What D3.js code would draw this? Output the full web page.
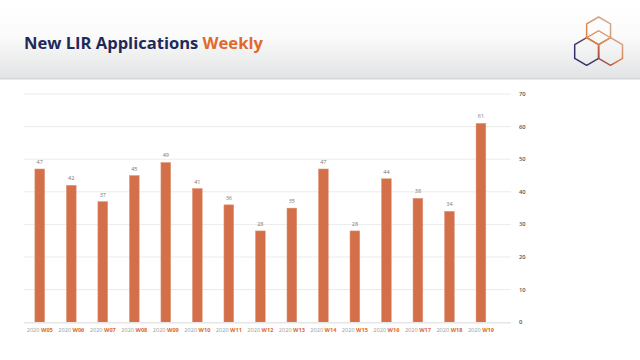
<!DOCTYPE html>
<html><head><meta charset="utf-8">
<script src="https://cdn.jsdelivr.net/npm/d3@7"></script>
<style>body{margin:0;background:#fff}svg{display:block}</style>
</head><body>
<svg id="c" width="640" height="360"></svg>
<script>
const year = "2020";
const weeks = ["W05","W06","W07","W08","W09","W10","W11","W12","W13","W14","W15","W16","W17","W18","W19"];
const values = [47,42,37,45,49,41,36,28,35,47,28,44,38,34,61];
const yTicks = [0,10,20,30,40,50,60,70];
const titleMain = "New LIR Applications ";
const titleAccent = "Weekly";

const svg = d3.select("#c");
const defs = svg.append("defs");
const FONT = "'Open Sans', sans-serif";

// header background
const hg = defs.append("linearGradient").attr("id","hg").attr("x1",0).attr("y1",0).attr("x2",0).attr("y2",1);
hg.append("stop").attr("offset","0%").attr("stop-color","#ffffff");
hg.append("stop").attr("offset","45%").attr("stop-color","#fbfbfb");
hg.append("stop").attr("offset","100%").attr("stop-color","#e2e3e4");
svg.append("rect").attr("x",0).attr("y",0).attr("width",640).attr("height",78).attr("fill","url(#hg)");
svg.append("rect").attr("x",0).attr("y",78).attr("width",640).attr("height",1.5).attr("fill","#d4d5d7");

// title
const title = svg.append("text").attr("x",24).attr("y",48.5)
  .attr("font-family",FONT).attr("font-weight",700).attr("font-size",18);
title.append("tspan").attr("fill","#1e2a5a").text(titleMain);
title.append("tspan").attr("fill","#e0692b").text(titleAccent);
const tw = title.node().getComputedTextLength();
title.attr("font-size", 18 * 239 / tw);

// logo
function hexPts(cx, cy, r){
  return d3.range(6).map(i => {const a = Math.PI/180*(90 + 60*i); return [cx + r*Math.cos(a), cy - r*Math.sin(a)];});
}
const R = 13.8, O = [598.6, 44.6];
const cTop = [O[0], O[1]-R];
const cLeft = [O[0]-R*Math.cos(Math.PI/6), O[1]+R/2];
const cRight = [O[0]+R*Math.cos(Math.PI/6), O[1]+R/2];
function grad(id, x1,y1,x2,y2, stops){
  const g = defs.append("linearGradient").attr("id",id).attr("gradientUnits","userSpaceOnUse")
    .attr("x1",x1).attr("y1",y1).attr("x2",x2).attr("y2",y2);
  stops.forEach(s => g.append("stop").attr("offset",s[0]).attr("stop-color",s[1]));
}
grad("gt", cTop[0]-R, cTop[1]+R, cTop[0]+R, cTop[1]-R, [[0,"#e8762e"],[0.45,"#dc8c58"],[1,"#c6b9ae"]]);
grad("gl", cLeft[0]-R, cLeft[1]+R, cLeft[0]+R, cLeft[1]-R, [[0,"#262a6e"],[0.55,"#4a3568"],[1,"#d5743a"]]);
grad("gr", cRight[0]-R, cRight[1]+R, cRight[0]+R, cRight[1]-R, [[0,"#6a3a55"],[0.45,"#e2723a"],[1,"#c9b6a6"]]);
const line = d3.line();
[[cLeft,"gl"],[cRight,"gr"],[cTop,"gt"]].forEach(([c,g]) => {
  svg.append("path").attr("d", line(hexPts(c[0],c[1],R)) + "Z")
    .attr("fill","none").attr("stroke","url(#"+g+")").attr("stroke-width",1.5).attr("stroke-linejoin","round");
});
// inner cube top face
svg.append("path").attr("d", line([[cLeft[0], cLeft[1]-R],[O[0], O[1]-R],[cRight[0], cRight[1]-R]]))
  .attr("fill","none").attr("stroke","url(#gt)").attr("stroke-width",1.3);

// chart
const x = d3.scaleBand().domain(weeks).range([24, 496.7]).paddingInner(0.69).paddingOuter(0.345);
const y = d3.scaleLinear().domain([0,70]).range([322.2, 94]);
const gridX1 = 24, gridX2 = 511;

svg.append("g").selectAll("line").data(yTicks.filter(d=>d>0)).join("line")
  .attr("x1",gridX1).attr("x2",gridX2).attr("y1",d=>y(d)).attr("y2",d=>y(d))
  .attr("stroke","#ebebeb").attr("stroke-width",1);

svg.append("g").selectAll("text").data(yTicks).join("text")
  .attr("x",519).attr("y",d=>y(d)).attr("dy","0.35em")
  .attr("font-family",FONT).attr("font-weight",600).attr("font-size",5.8).attr("fill","#555")
  .text(d=>d);

svg.append("g").selectAll("rect").data(values).join("rect")
  .attr("x",(d,i)=>x(weeks[i])).attr("width",x.bandwidth())
  .attr("y",d=>y(d)).attr("height",d=>y(0)-y(d))
  .attr("fill","#d3704a").attr("stroke","#e0987a").attr("stroke-width",0.5);

svg.append("line").attr("x1",gridX1).attr("x2",gridX2).attr("y1",y(0)+0.5).attr("y2",y(0)+0.5)
  .attr("stroke","#e6e6e6").attr("stroke-width",1.5);

svg.append("g").selectAll("text").data(values).join("text")
  .attr("x",(d,i)=>x(weeks[i])+x.bandwidth()/2).attr("y",d=>y(d)-5).attr("text-anchor","middle")
  .attr("font-family",FONT).attr("font-size",5.5).attr("fill","#777")
  .text(d=>d);

const xl = svg.append("g").selectAll("text").data(weeks).join("text")
  .attr("x",d=>x(d)+x.bandwidth()/2).attr("y",330).attr("dy","0.35em").attr("text-anchor","middle")
  .attr("font-family",FONT).attr("font-size",5.6);
xl.append("tspan").attr("fill","#9a9a9a").text(year + " ");
xl.append("tspan").attr("fill","#e0692b").attr("font-weight",700).text(d=>d);
</script>
</body></html>
